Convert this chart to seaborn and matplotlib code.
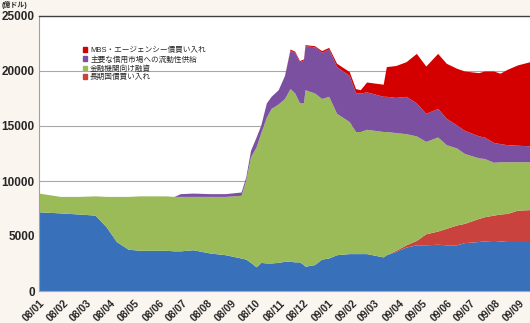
import matplotlib
matplotlib.use("Agg")
import matplotlib.pyplot as plt
import matplotlib.dates as mdates
from matplotlib.patches import Patch
import numpy as np
import pandas as pd
import seaborn as sns

# Weekly-ish observation dates
dates = [
    "2008-01-01", "2008-01-28", "2008-02-20", "2008-03-12", "2008-03-26",
    "2008-04-08", "2008-04-23", "2008-05-08", "2008-06-10", "2008-06-20",
    "2008-06-28", "2008-07-14", "2008-08-05", "2008-08-24", "2008-09-13",
    "2008-09-19", "2008-09-25", "2008-10-02", "2008-10-08", "2008-10-15",
    "2008-10-21", "2008-10-30", "2008-11-07", "2008-11-14", "2008-11-20",
    "2008-11-26", "2008-12-01", "2008-12-03", "2008-12-15", "2008-12-24",
    "2009-01-02", "2009-01-12", "2009-01-28", "2009-02-05", "2009-02-11",
    "2009-02-19", "2009-03-12", "2009-03-16", "2009-03-28", "2009-04-10",
    "2009-04-23", "2009-05-05", "2009-05-20", "2009-05-31", "2009-06-13",
    "2009-06-23", "2009-07-11", "2009-07-18", "2009-07-30", "2009-08-07",
    "2009-08-16", "2009-08-29", "2009-09-14",
]

# Components of the balance sheet (hundred-million dollars)
other_assets = [
    7200, 7100, 7000, 6900, 5850, 4500, 3800, 3700, 3700, 3650,
    3650, 3750, 3450, 3300, 3000, 2900, 2600, 2200, 2600, 2550,
    2550, 2600, 2700, 2700, 2650, 2650, 2400, 2250, 2400, 2900,
    3000, 3300, 3400, 3400, 3400, 3400, 3100, 3300, 3600, 4000,
    4200, 4200, 4250, 4200, 4200, 4400, 4500, 4550, 4600, 4550,
    4500, 4500, 4500,
]
treasury_purchases = [
    0, 0, 0, 0, 0, 0, 0, 0, 0, 0,
    0, 0, 0, 0, 0, 0, 0, 0, 0, 0,
    0, 0, 0, 0, 0, 0, 0, 0, 0, 0,
    0, 0, 0, 0, 0, 0, 0, 0, 100, 200,
    400, 1000, 1200, 1500, 1800, 1750, 2100, 2200, 2300, 2450,
    2550, 2850, 2900,
]
bank_lending = [
    1700, 1500, 1600, 1750, 2750, 4100, 4800, 4950, 4950, 4950,
    4950, 4850, 5150, 5300, 5700, 7200, 9600, 10900, 11800, 13250,
    14050, 14400, 14800, 15700, 15350, 14450, 14700, 16050, 15600, 14600,
    14700, 12850, 12000, 11100, 11100, 11300, 11400, 11200, 10700, 10100,
    9500, 8400, 8550, 7600, 7000, 6350, 5500, 5300, 4800, 4750,
    4700, 4400, 4350,
]
credit_liquidity = [
    0, 0, 0, 0, 0, 0, 0, 0, 0, 0,
    250, 300, 250, 250, 300, 300, 600, 900, 700, 1300,
    1100, 1300, 2100, 3500, 3700, 3750, 3900, 4000, 4200, 4200,
    4300, 4250, 4200, 3500, 3500, 3400, 3200, 3200, 3200, 3400,
    3000, 2550, 2600, 2400, 2100, 2100, 2000, 1950, 1800, 1650,
    1550, 1500, 1450,
]
mbs_agency = [
    0, 0, 0, 0, 0, 0, 0, 0, 0, 0,
    0, 0, 0, 0, 0, 0, 0, 0, 0, 0,
    0, 0, 0, 100, 100, 100, 100, 100, 100, 150,
    150, 300, 350, 400, 300, 900, 1100, 2700, 2900, 3150,
    4500, 4300, 5000, 5000, 5150, 5400, 5750, 6000, 6500, 6400,
    6850, 7300, 7650,
]

legend_labels = [
    "MBS・エージェンシー債買い入れ",
    "主要な信用市場への流動性供給",
    "金融機関向け融資",
    "長期国債買い入れ",
]
y_ticks = [0, 5000, 10000, 15000, 20000, 25000]
unit_label = "(億ドル)"

c_other = "#3871BA"
c_treas = "#C9423E"
c_bank = "#9BBB59"
c_credit = "#7B50A1"
c_mbs = "#D40000"
bg = "#FBF5F0"

sns.set_theme(style="white")
plt.rcParams["font.family"] = ["Liberation Sans", "Noto Sans CJK JP", "DejaVu Sans"]

df = pd.DataFrame({
    "date": pd.to_datetime(dates),
    "other": other_assets,
    "treasury": treasury_purchases,
    "bank": bank_lending,
    "credit": credit_liquidity,
    "mbs": mbs_agency,
})

fig = plt.figure(figsize=(5.30, 3.23), dpi=100, facecolor=bg)
ax = fig.add_axes([39 / 530, 32 / 323, 491 / 530, 275 / 323])
ax.set_facecolor("white")

ax.stackplot(
    df["date"],
    df["other"], df["treasury"], df["bank"], df["credit"], df["mbs"],
    colors=[c_other, c_treas, c_bank, c_credit, c_mbs],
    linewidth=0,
)

ax.set_ylim(0, 25000)
ax.set_xlim(pd.Timestamp("2008-01-01"), pd.Timestamp("2009-09-14"))
ax.set_yticks(y_ticks)
ax.set_yticklabels([str(v) for v in y_ticks], fontsize=8.5, fontweight="bold")
for v in y_ticks[1:-1]:
    ax.axhline(v, color="#A8A8A8", linewidth=0.8, zorder=0)

ax.xaxis.set_major_locator(mdates.MonthLocator())
ax.xaxis.set_major_formatter(mdates.DateFormatter("%y/%m"))
plt.setp(ax.get_xticklabels(), rotation=45, ha="right", rotation_mode="anchor",
         fontsize=7.5, fontweight="bold")
ax.tick_params(axis="both", length=0, pad=3)
ax.tick_params(axis="x", pad=5)

ax.spines["right"].set_visible(False)
ax.spines["top"].set_color("#404040")
ax.spines["top"].set_linewidth(1.0)
ax.spines["left"].set_color("#A0A0A0")
ax.spines["left"].set_linewidth(0.8)
ax.spines["bottom"].set_color("#9AA8C0")
ax.spines["bottom"].set_linewidth(0.8)

handles = [Patch(color=c) for c in [c_mbs, c_credit, c_bank, c_treas]]
leg = ax.legend(
    handles, legend_labels, loc="upper left", bbox_to_anchor=(0.083, 0.898),
    frameon=False, fontsize=5.5, handlelength=0.6, handleheight=0.6,
    handletextpad=0.35, labelspacing=0.2, borderaxespad=0,
)

fig.text(2 / 530, 1 - 5 / 323, unit_label, fontsize=5, fontweight="bold",
         va="center", ha="left")

fig.savefig("out.png", dpi=100, facecolor=bg)
